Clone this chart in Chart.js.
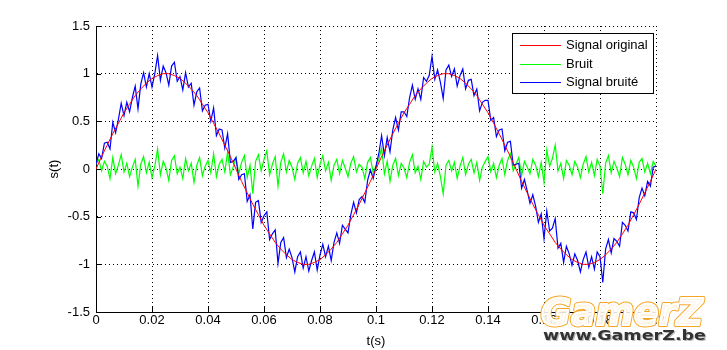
<!DOCTYPE html>
<html>
<head>
<meta charset="utf-8">
<script src="https://cdn.jsdelivr.net/npm/chart.js@4.4.1/dist/chart.umd.min.js"></script>
<style>
  html, body { margin: 0; padding: 0; background: #fff; }
  canvas { display: block; }
</style>
</head>
<body>
<canvas id="signalChart" width="727" height="350"></canvas>
<script>
// sample steps (s)
const dtOriginal = 0.002;
const dtNoise = 0.001;

// Signal original
const original = [
  0, 0.13, 0.25, 0.37, 0.48, 0.59, 0.68, 0.77, 0.84, 0.90, 0.95, 0.98, 1.00, 1.00, 0.98, 0.95, 0.90, 0.84, 0.77, 0.68, 0.59, 0.48, 0.37, 0.25, 0.13,
  0, -0.13, -0.25, -0.37, -0.48, -0.59, -0.68, -0.77, -0.84, -0.90, -0.95, -0.98, -1.00, -1.00, -0.98, -0.95, -0.90, -0.84, -0.77, -0.68, -0.59, -0.48, -0.37, -0.25, -0.13,
  0, 0.13, 0.25, 0.37, 0.48, 0.59, 0.68, 0.77, 0.84, 0.90, 0.95, 0.98, 1.00, 1.00, 0.98, 0.95, 0.90, 0.84, 0.77, 0.68, 0.59, 0.48, 0.37, 0.25, 0.13,
  0, -0.13, -0.25, -0.37, -0.48, -0.59, -0.68, -0.77, -0.84, -0.90, -0.95, -0.98, -1.00, -1.00, -0.98, -0.95, -0.90, -0.84, -0.77, -0.68, -0.59, -0.48, -0.37, -0.25, -0.13,
  0
];

// Bruit
const noise = [
  0.05, 0.10, -0.02, 0.08, 0.03, -0.10, 0.12, -0.05, 0.04, 0.15,
  -0.03, 0.06, -0.08, 0.02, 0.10, -0.18, 0.05, 0.13, -0.04, 0.07,
  -0.09, 0.03, 0.21, -0.06, 0.08, 0.01, -0.12, 0.09, 0.14, -0.05,
  0.02, -0.10, 0.11, -0.02, 0.06, -0.14, 0.04, 0.12, -0.07, 0.03,
  0.09, -0.04, 0.16, -0.08, 0.05, 0.10, -0.03, 0.18, -0.06, 0.02,
  0.12, -0.05, 0.07, 0.14, -0.09, 0.04, -0.26, 0.08, 0.15, -0.02,
  0.10, 0.19, -0.06, 0.05, 0.13, -0.18, 0.07, 0.16, -0.03, 0.09,
  0.02, -0.11, 0.06, 0.12, -0.04, 0.08, -0.07, 0.03, 0.11, -0.09,
  0.05, 0.14, -0.02, 0.07, -0.12, 0.04, 0.10, -0.05, 0.09, 0.01,
  -0.08, 0.06, 0.13, -0.03, 0.05, 0.02, -0.10, 0.07, 0.12, -0.04,
  0.03, 0.10, 0.22, -0.05, 0.08, -0.13, 0.04, 0.11, -0.07, 0.06,
  0.01, -0.09, 0.07, 0.15, -0.04, 0.03, -0.11, 0.08, 0.02, 0.05,
  0.23, -0.03, 0.06, -0.08, -0.26, 0.04, 0.09, -0.02, 0.07, -0.10,
  0.03, 0.12, -0.06, 0.05, 0.10, -0.04, 0.07, -0.12, 0.02, 0.08,
  0.13, -0.03, 0.06, -0.09, 0.04, 0.11, -0.06, 0.09, 0.16, -0.02,
  0.05, 0.12, -0.07, 0.08, 0.02, -0.05, 0.10, 0.04, -0.08, 0.07,
  -0.14, 0.20, 0.03, 0.11, 0.25, -0.02, 0.06, -0.10, 0.09, 0.04,
  -0.06, 0.08, 0.02, -0.09, 0.05, 0.13, -0.03, 0.07, -0.07, 0.10,
  0.03, -0.26, 0.06, 0.14, -0.04, 0.08, 0.01, -0.08, 0.12, 0.05,
  -0.06, 0.09, 0.02, -0.10, 0.07, 0.11, -0.03, 0.06, -0.05, 0.08,
  0.03
];

// Signal bruité
const noisy = [
  0.05, 0.16, 0.11, 0.27, 0.28, 0.21, 0.49, 0.38, 0.52, 0.69,
  0.56, 0.70, 0.60, 0.75, 0.87, 0.63, 0.89, 1.01, 0.86, 1.00,
  0.86, 1.00, 1.19, 0.93, 1.08, 1.01, 0.88, 1.08, 1.12, 0.92,
  0.97, 0.83, 1.01, 0.86, 0.90, 0.67, 0.81, 0.85, 0.61, 0.67,
  0.68, 0.50, 0.64, 0.35, 0.42, 0.41, 0.22, 0.37, 0.07, 0.08,
  0.12, -0.11, -0.06, -0.05, -0.34, -0.27, -0.63, -0.35, -0.33, -0.56,
  -0.49, -0.45, -0.74, -0.68, -0.64, -0.99, -0.77, -0.72, -0.93, -0.84,
  -0.93, -1.08, -0.92, -0.87, -1.04, -0.92, -1.07, -0.96, -0.87, -1.06,
  -0.90, -0.79, -0.92, -0.81, -0.96, -0.77, -0.67, -0.78, -0.59, -0.63,
  -0.67, -0.48, -0.35, -0.46, -0.32, -0.29, -0.35, -0.12, -0.01, -0.10,
  0.03, 0.16, 0.35, 0.14, 0.33, 0.18, 0.41, 0.54, 0.41, 0.60,
  0.60, 0.55, 0.75, 0.88, 0.73, 0.84, 0.73, 0.96, 0.92, 0.98,
  1.18, 0.94, 1.04, 0.91, 0.74, 1.04, 1.09, 0.97, 1.05, 0.87,
  0.98, 1.05, 0.84, 0.93, 0.94, 0.77, 0.84, 0.61, 0.70, 0.72,
  0.72, 0.51, 0.54, 0.34, 0.41, 0.42, 0.19, 0.28, 0.29, 0.04,
  0.05, 0.06, -0.20, -0.11, -0.23, -0.36, -0.27, -0.39, -0.56, -0.47,
  -0.73, -0.44, -0.65, -0.62, -0.52, -0.83, -0.78, -0.98, -0.81, -0.89,
  -1.01, -0.89, -0.96, -1.08, -0.95, -0.87, -1.03, -0.92, -1.05, -0.87,
  -0.92, -1.19, -0.84, -0.74, -0.88, -0.73, -0.76, -0.81, -0.56, -0.59,
  -0.65, -0.45, -0.46, -0.53, -0.30, -0.20, -0.28, -0.13, -0.18, 0.02,
  0.03
];

// axis ticks
const xTickValues = [0, 0.02, 0.04, 0.06, 0.08, 0.1, 0.12, 0.14, 0.16, 0.18, 0.2];
const xTickLabels = ['0', '0.02', '0.04', '0.06', '0.08', '0.1', '0.12', '0.14', '0.16', '0.18', '0.2'];
const yTickValues = [-1.5, -1, -0.5, 0, 0.5, 1, 1.5];
const yTickLabels = ['-1.5', '-1', '-0.5', '0', '0.5', '1', '1.5'];

const FONT = 'Liberation Sans, Arial, sans-serif';

const toPoints = (arr, dt) => arr.map((v, i) => ({ x: i * dt, y: v }));

// MATLAB style ticks pointing inward
const innerTicks = {
    id: 'innerTicks',
    afterDraw(chart) {
        const { ctx, scales: { x, y } } = chart;
        ctx.save();
        ctx.strokeStyle = '#000';
        ctx.lineWidth = 1;
        ctx.beginPath();
        x.ticks.forEach(t => {
            const px = Math.round(x.getPixelForValue(t.value)) + 0.5;
            ctx.moveTo(px, y.bottom);
            ctx.lineTo(px, y.bottom - 5);
        });
        y.ticks.forEach(t => {
            const py = Math.round(y.getPixelForValue(t.value)) + 0.5;
            ctx.moveTo(x.left, py);
            ctx.lineTo(x.left + 5, py);
        });
        ctx.stroke();
        ctx.restore();
    }
};

// legend box inside the axes, top right
const boxLegend = {
    id: 'boxLegend',
    afterDraw(chart) {
        const ctx = chart.ctx;
        const left = 512.5, top = 33.5, w = 141, h = 60;
        ctx.save();
        ctx.fillStyle = '#fff';
        ctx.fillRect(left, top, w, h);
        ctx.strokeStyle = '#000';
        ctx.lineWidth = 1;
        ctx.strokeRect(left, top, w, h);
        ctx.font = '13px ' + FONT;
        ctx.textBaseline = 'middle';
        chart.data.datasets.forEach((ds, i) => {
            const ry = Math.round(45 + i * 18.5) + 0.5;
            ctx.strokeStyle = ds.borderColor;
            ctx.beginPath();
            ctx.moveTo(520, ry);
            ctx.lineTo(561, ry);
            ctx.stroke();
            ctx.fillStyle = '#000';
            ctx.fillText(ds.label, 566, ry);
        });
        ctx.restore();
    }
};

// site watermark, bottom right
const watermark = {
    id: 'watermark',
    afterDraw(chart) {
        const ctx = chart.ctx;
        ctx.save();
        ctx.font = 'italic bold 38px DejaVu Sans, sans-serif';
        ctx.textBaseline = 'alphabetic';
        let w = ctx.measureText('GamerZ').width;
        ctx.translate(541, 325);
        ctx.scale(162 / w, 1);
        ctx.lineJoin = 'round';
        ctx.lineWidth = 4;
        ctx.strokeStyle = '#F6A623';
        ctx.strokeText('GamerZ', 0, 0);
        ctx.lineWidth = 2;
        ctx.strokeStyle = '#fff';
        ctx.strokeText('GamerZ', 0, 0);
        ctx.fillStyle = 'rgba(255,255,255,0.85)';
        ctx.fillText('GamerZ', 0, 0);
        ctx.restore();

        ctx.save();
        ctx.font = 'bold 14px DejaVu Sans, sans-serif';
        ctx.textBaseline = 'alphabetic';
        w = ctx.measureText('www.GamerZ.be').width;
        ctx.translate(543, 340);
        ctx.scale(163 / w, 1);
        ctx.fillStyle = '#bbb';
        ctx.fillText('www.GamerZ.be', 1, 1);
        ctx.fillStyle = '#333';
        ctx.fillText('www.GamerZ.be', 0, 0);
        ctx.restore();
    }
};

new Chart(document.getElementById('signalChart').getContext('2d'), {
    type: 'line',
    data: {
        datasets: [
            {
                label: 'Signal original',
                data: toPoints(original, dtOriginal),
                borderColor: '#FF0000',
                borderWidth: 1,
                pointRadius: 0,
                order: 0
            },
            {
                label: 'Bruit',
                data: toPoints(noise, dtNoise),
                borderColor: '#00FF00',
                borderWidth: 1.2,
                pointRadius: 0,
                order: 2
            },
            {
                label: 'Signal bruité',
                data: toPoints(noisy, dtNoise),
                borderColor: '#0000FF',
                borderWidth: 1.2,
                pointRadius: 0,
                order: 1
            }
        ]
    },
    options: {
        responsive: false,
        animation: false,
        devicePixelRatio: 1,
        layout: { padding: { top: 26, right: 71, left: 0, bottom: 0 } },
        scales: {
            x: {
                type: 'linear',
                min: 0,
                max: 0.2,
                afterBuildTicks: s => { s.ticks = xTickValues.map(v => ({ value: v })); },
                afterFit: s => { s.height = 38; },
                grid: { color: '#000', lineWidth: 1, drawTicks: false },
                border: { display: true, color: '#000', width: 1, dash: [1, 3] },
                ticks: {
                    color: '#000',
                    padding: 1,
                    maxRotation: 0,
                    autoSkip: false,
                    font: { family: FONT, size: 13 },
                    callback: (v, i) => xTickLabels[i]
                },
                title: {
                    display: true,
                    text: 't(s)',
                    color: '#000',
                    padding: { top: 0, bottom: 1 },
                    font: { family: FONT, size: 13 }
                }
            },
            y: {
                min: -1.5,
                max: 1.5,
                afterBuildTicks: s => { s.ticks = yTickValues.map(v => ({ value: v })); },
                afterFit: s => { s.width = 96; },
                grid: { color: '#000', lineWidth: 1, drawTicks: false },
                border: { display: true, color: '#000', width: 1, dash: [1, 3] },
                ticks: {
                    color: '#000',
                    padding: 6,
                    autoSkip: false,
                    font: { family: FONT, size: 13 },
                    callback: (v, i) => yTickLabels[i]
                },
                title: {
                    display: true,
                    text: 's(t)',
                    color: '#000',
                    padding: { top: 47, bottom: 0 },
                    font: { family: FONT, size: 13 }
                }
            }
        },
        plugins: {
            legend: { display: false },
            tooltip: { enabled: false },
            title: { display: false }
        }
    },
    plugins: [innerTicks, boxLegend, watermark]
});
</script>
</body>
</html>
